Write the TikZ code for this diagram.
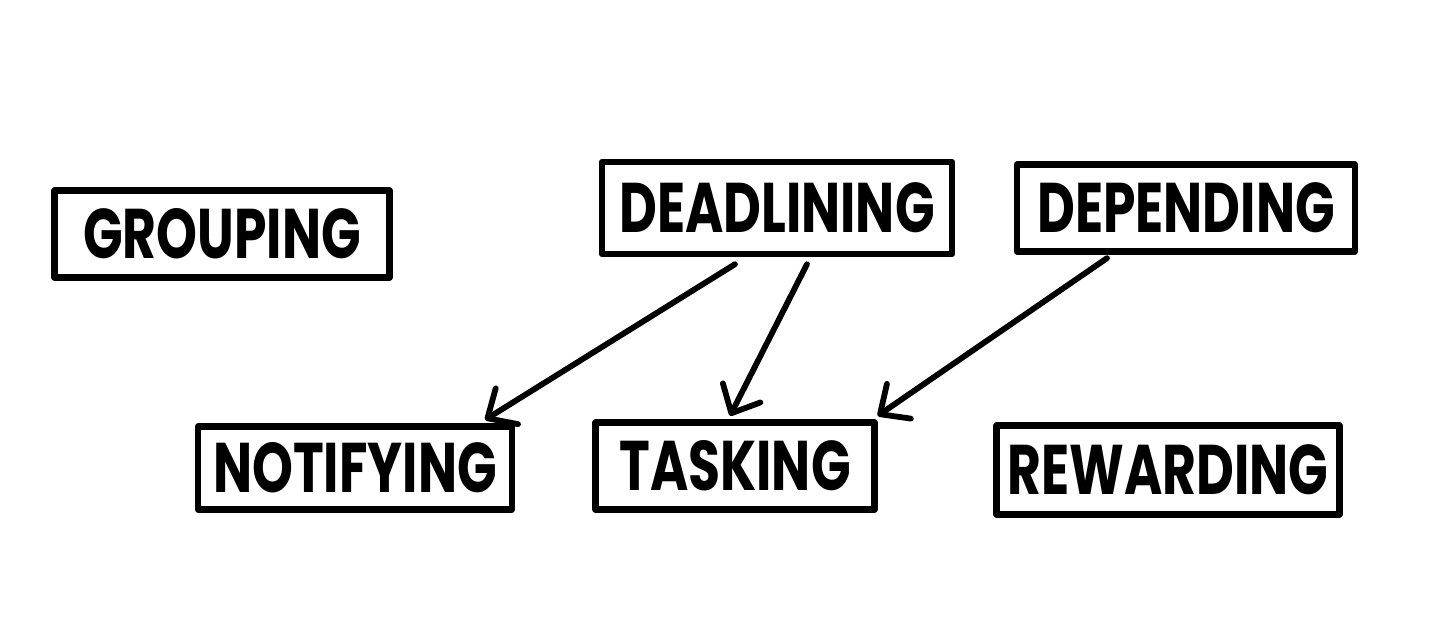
\documentclass[tikz,border=0pt]{standalone}
\usepackage{fontspec}
\setmainfont{Poppins}
\usetikzlibrary{arrows.meta}
\newcommand{\hand}[1]{\scalebox{0.74}[1]{\bfseries #1}}
\begin{document}
\begin{tikzpicture}[x=0.02cm, y=-0.02cm,
    box/.style={draw, line width=3.6pt, line join=round, inner sep=0pt,
        minimum height=87*0.02cm, font=\fontsize{40}{40}\selectfont},
    link/.style={line width=3.3pt, line cap=round,
        -{Straight Barb[length=13pt, width=24pt, line width=3.3pt, round]}}]
    \definecolor{myink}{RGB}{0,0,0}
    \useasboundingbox (0,0) rectangle (1452,642);

    % top row
    \node[box, minimum width=335*0.02cm] (grouping) at (222,234) {\hand{GROUPING}};
    \node[box, minimum width=350*0.02cm, minimum height=92*0.02cm] (deadlining) at (777,208) {\hand{DEADLINING}};
    \node[box, minimum width=338*0.02cm] (depending) at (1186,208) {\hand{DEPENDING}};

    % bottom row
    \node[box, minimum width=314*0.02cm, minimum height=83*0.02cm] (notifying) at (355,468) {\hand{NOTIFYING}};
    \node[box, minimum width=279*0.02cm] (tasking) at (735,466) {\hand{TASKING}};
    \node[box, minimum width=343*0.02cm, minimum height=89*0.02cm] (rewarding) at (1168,470) {\hand{REWARDING}};

    % dependencies
    \draw[link, myink] ([xshift=-42*0.02cm, yshift=-4pt]deadlining.south) -- ([xshift=130*0.02cm, yshift=2pt]notifying.north);
    \draw[link, myink] ([xshift=30*0.02cm, yshift=-4pt]deadlining.south) -- ([xshift=-5*0.02cm, yshift=2pt]tasking.north);
    \draw[link, myink] ([xshift=-79*0.02cm, yshift=-2pt]depending.south) -- ([yshift=2pt]tasking.north east);
\end{tikzpicture}
\end{document}
